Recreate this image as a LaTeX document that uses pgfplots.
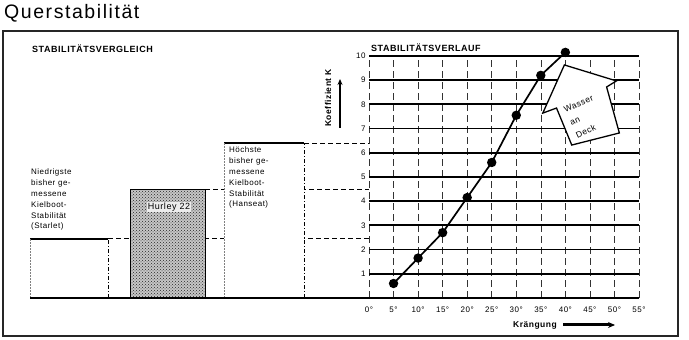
\documentclass[border=0pt]{standalone}
\usepackage{fontspec}
\setmainfont{Liberation Sans}[LetterSpace=6]
\usepackage{pgfplots}
\pgfplotsset{compat=1.18}
\usetikzlibrary{patterns,arrows.meta}
\begin{document}
\begin{tikzpicture}
\useasboundingbox (0pt,0pt) rectangle (689pt,340pt);
% outer frame
\draw[line width=1.1pt, black!85] (3pt,4pt) rectangle (678pt,309pt);
\node[anchor=base west, inner sep=0pt, font=\fontsize{19.5}{21}\selectfont\addfontfeatures{LetterSpace=8}] at (4pt,321pt) {Querstabilität};
\node[anchor=base west, inner sep=0pt, font=\fontsize{9}{10}\selectfont\bfseries] at (32pt,287.5pt) {STABILITÄTSVERGLEICH};
\node[anchor=base west, inner sep=0pt, font=\fontsize{9}{10}\selectfont\bfseries] at (371pt,288.3pt) {STABILITÄTSVERLAUF};

% ---------- left: comparison bars ----------
\begin{axis}[at={(30pt,42pt)}, anchor=south west, scale only axis,
  width=339pt, height=242pt, xmin=30, xmax=369, ymin=0, ymax=10,
  axis lines=none, clip=false]
\addplot[black, line width=0.9pt, dash pattern=on 5pt off 3pt] coordinates {(108,2.44) (369,2.44)};
\addplot[black, line width=0.9pt, dash pattern=on 5pt off 3pt] coordinates {(205,4.5) (369,4.5)};
\addplot[black, line width=0.9pt, dash pattern=on 5pt off 3pt] coordinates {(304,6.4) (369,6.4)};
% Starlet
\addplot[black, line width=1.3pt] coordinates {(30,2.44) (108,2.44)};
\addplot[black!50, densely dotted, line width=0.5pt] coordinates {(30,0) (30,2.44)};
\addplot[black, line width=0.6pt, dash pattern=on 4pt off 2pt on 1pt off 2pt] coordinates {(108,0) (108,2.44)};
% Hurley 22
\addplot[fill=gray!45, draw=none] coordinates {(130,0) (130,4.5) (205,4.5) (205,0)} -- cycle;
\addplot[pattern=crosshatch dots, pattern color=black!85, draw=black, line width=1pt] coordinates {(130,0) (130,4.5) (205,4.5) (205,0)} -- cycle;
% Hanseat
\addplot[fill=white, draw=none] coordinates {(224,0) (224,6.4) (304,6.4) (304,0)} -- cycle;
\addplot[black, line width=1.3pt] coordinates {(224,6.4) (304,6.4)};
\addplot[black!50, densely dotted, line width=0.5pt] coordinates {(224,0) (224,6.4)};
\addplot[black, line width=0.6pt, dash pattern=on 4pt off 2pt on 1pt off 2pt] coordinates {(304,0) (304,6.4)};
% baseline
\addplot[black, line width=1.8pt] coordinates {(30,0) (369,0)};
\end{axis}

\node[anchor=north west, align=left, inner sep=0pt, font=\fontsize{8}{10.8}\selectfont] at (31pt,171pt)
  {Niedrigste\\bisher ge-\\messene\\Kielboot-\\Stabilität\\(Starlet)};
\node[anchor=north west, align=left, inner sep=0pt, font=\fontsize{8}{10.8}\selectfont] at (229pt,193pt)
  {Höchste\\bisher ge-\\messene\\Kielboot-\\Stabilität\\(Hanseat)};
\node[fill=gray!15, inner sep=1.2pt, font=\fontsize{9}{10}\selectfont] at (169pt,133pt) {Hurley 22};

% ---------- right: stability curve ----------
\begin{axis}[at={(369pt,42pt)}, anchor=south west, scale only axis,
  width=270pt, height=242pt, xmin=0, xmax=55, ymin=0, ymax=10,
  axis line style={draw=none}, clip=false,
  /pgf/number format/assume math mode=true,
  xtick={0,5,...,55}, ytick={0,1,...,10},
  yticklabels={,1,2,3,4,5,6,7,8,9,10},
  xticklabel={\pgfmathprintnumber{\tick}°},
  major tick length=0pt,
  tick label style={font=\fontsize{8}{9}\selectfont},
  xticklabel style={yshift=-5pt},
  xmajorgrids, ymajorgrids,
  x grid style={black!80, line width=0.6pt, dash pattern=on 7pt off 4pt},
  y grid style={black, line width=1.8pt}]
\addplot[black, line width=1.7pt, mark=*, mark size=3.8pt] coordinates
  {(5,0.6) (10,1.65) (15,2.7) (20,4.15) (25,5.6) (30,7.55) (35,9.2) (40,10.15)};
\draw[fill=white, line width=1.3pt, line join=miter] (axis cs:39.8,9.63) -- (axis cs:50.4,8.97) -- (axis cs:48.4,8.72)
  -- (axis cs:51.0,6.82) -- (axis cs:41.3,6.32) -- (axis cs:38.2,7.85) -- (axis cs:35.4,7.64) -- cycle;
\node[rotate=25, align=left, inner sep=0pt, font=\fontsize{8.5}{14}\selectfont] at (axis cs:43.9,7.5) {Wasser\\an\\Deck};
\end{axis}

% axis titles
\node[rotate=90, inner sep=0pt, font=\fontsize{8.5}{10}\selectfont\bfseries] at (328pt,242pt) {Koeffizient K};
\draw[-{Stealth[length=6pt,width=5pt]}, line width=1.3pt] (340pt,212pt) -- (340pt,261pt);
\node[inner sep=0pt, font=\fontsize{8.5}{10}\selectfont\bfseries] at (535pt,15pt) {Krängung};
\draw[-{Stealth[length=7pt,width=6pt]}, line width=3pt] (563pt,15pt) -- (615pt,15pt);
\end{tikzpicture}
\end{document}
